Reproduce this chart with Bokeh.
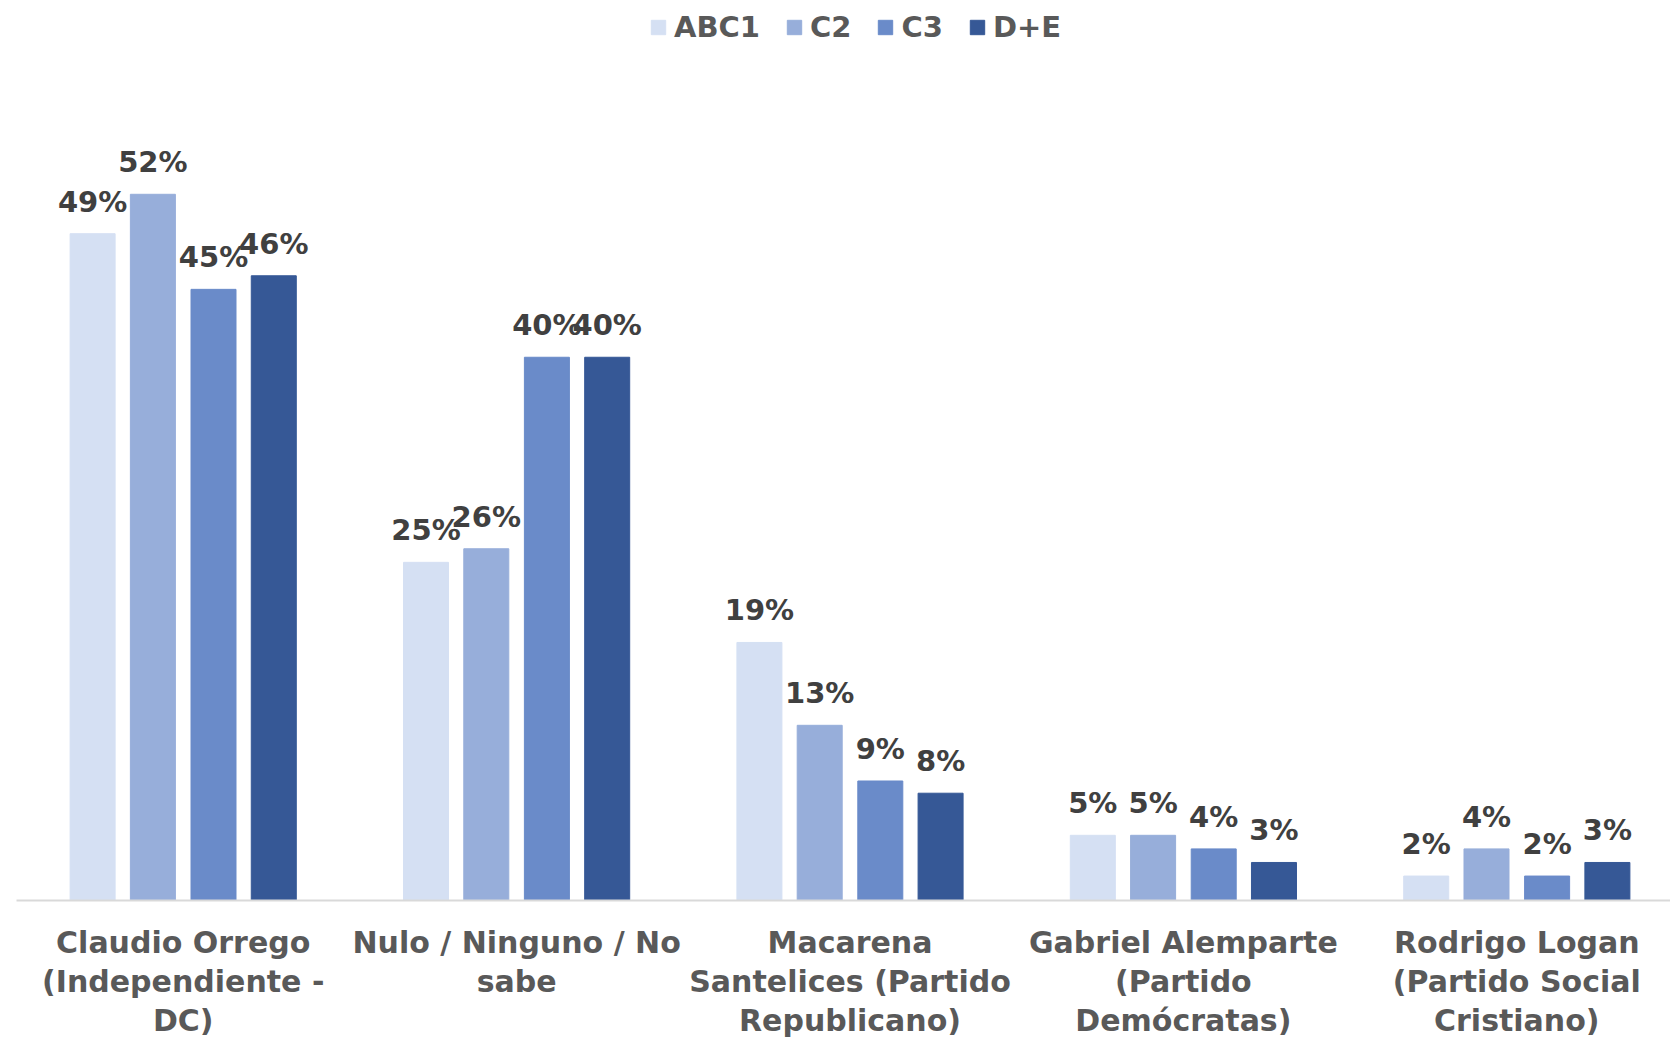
from bokeh.plotting import figure
from bokeh.models import Range1d, FixedTicker, ColumnDataSource, Legend, LegendItem, LabelSet
from bokeh.core.properties import value
from bokeh.embed import file_html
from bokeh.resources import INLINE

categories = [
    "Claudio Orrego\n(Independiente -\nDC)",
    "Nulo / Ninguno / No\nsabe",
    "Macarena\nSantelices (Partido\nRepublicano)",
    "Gabriel Alemparte\n(Partido\nDemócratas)",
    "Rodrigo Logan\n(Partido Social\nCristiano)",
]
series = ["ABC1", "C2", "C3", "D+E"]
abc1 = [49.1, 24.9, 19.0, 4.8, 1.8]
c2 = [52.0, 25.9, 12.9, 4.8, 3.8]
c3 = [45.0, 40.0, 8.8, 3.8, 1.8]
de = [46.0, 40.0, 7.9, 2.8, 2.8]
values = [abc1, c2, c3, de]
colors = ["#D5E0F3", "#97AEDA", "#6A8BC9", "#365896"]

FONT = "DejaVu Sans"
offsets = [-0.2717, -0.0909, 0.0909, 0.2717]
bar_w = 0.135
centers = [i + 0.5 for i in range(len(categories))]

p = figure(frame_width=1654, frame_height=892, output_backend="svg", toolbar_location=None,
           x_range=Range1d(0, 4.961), y_range=Range1d(0, 65.68),
           min_border_left=16, min_border_right=0, min_border_top=8, min_border_bottom=0)
p.outline_line_color = None
p.grid.visible = False
p.yaxis.visible = False

xa = p.xaxis[0]
xa.ticker = FixedTicker(ticks=centers)
xa.major_label_overrides = {c: lab for c, lab in zip(centers, categories)}
xa.axis_line_color = "#D9D9D9"
xa.axis_line_width = 2
xa.major_tick_line_color = None
xa.minor_tick_line_color = None
xa.major_tick_out = 0
xa.major_tick_in = 0
xa.major_label_standoff = 24
xa.major_label_text_font = FONT
xa.major_label_text_font_style = "bold"
xa.major_label_text_font_size = "30px"
xa.major_label_text_color = "#595959"
xa.major_label_text_line_height = 1.12

items = []
for j, (name, vals, col) in enumerate(zip(series, values, colors)):
    src = ColumnDataSource(dict(
        x=[c + offsets[j] for c in centers],
        top=vals,
        lab=[f"{round(v)}%" for v in vals],
    ))
    r = p.vbar(x="x", top="top", bottom=0, width=bar_w, source=src,
               fill_color=col, line_color=col, line_width=1)
    items.append(LegendItem(label=name, renderers=[r]))
    p.add_layout(LabelSet(x="x", y="top", text="lab", source=src, y_offset=22,
                          text_align="center", text_baseline="alphabetic",
                          text_font=value(FONT), text_font_style="bold",
                          text_font_size="29px", text_color="#404040"))

legend = Legend(items=items, orientation="horizontal", location=(633, 856),
                glyph_width=18, glyph_height=18, label_standoff=7, spacing=25,
                padding=0, margin=0, border_line_color=None, background_fill_alpha=0,
                label_text_font=FONT, label_text_font_style="bold",
                label_text_font_size="29px", label_text_color="#595959")
p.add_layout(legend)

open("out.html", "w").write(file_html(p, INLINE))
